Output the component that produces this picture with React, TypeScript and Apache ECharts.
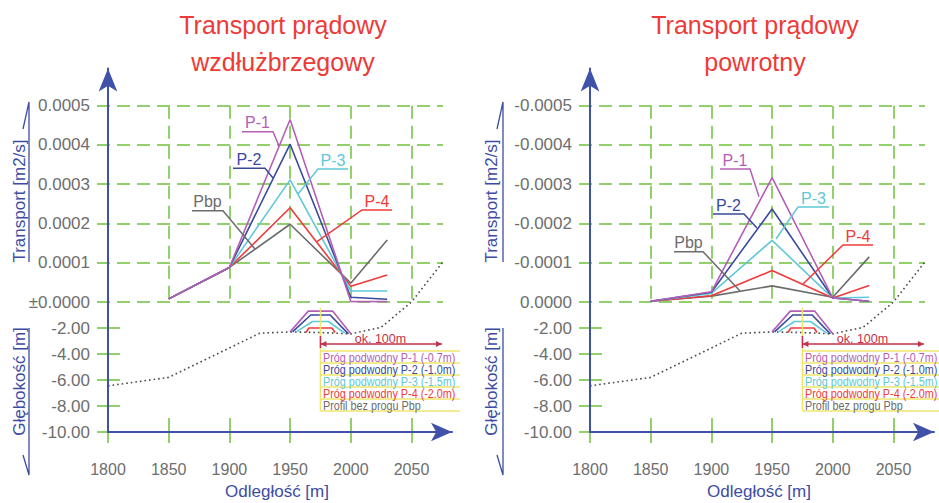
import React, { useEffect, useRef } from 'react';
import * as echarts from 'echarts';

// ---------- DATA ----------
const distances = [1850, 1900, 1950, 2000, 2030];
const seriesNames = ['P-1', 'P-2', 'P-3', 'P-4', 'Pbp'];

// Transport wzdłużbrzegowy [m2/s]
const alongP1 = [0.000008, 0.000088, 0.000465, 0.000001, 0.000001];
const alongP2 = [0.000008, 0.000088, 0.000402, 0.000012, 0.000007];
const alongP3 = [0.000008, 0.000088, 0.000311, 0.000028, 0.000028];
const alongP4 = [0.000008, 0.000088, 0.00024, 0.00004, 0.000069];
const alongPbp = [0.000008, 0.000088, 0.000198, 0.000048, 0.000158];

// Transport powrotny [m2/s]
const returnP1 = [-0.000002, -0.000026, -0.000317, -0.00001, -0.000002];
const returnP2 = [-0.000002, -0.000025, -0.000237, -0.00001, -0.000002];
const returnP3 = [-0.000002, -0.000022, -0.000157, -0.00001, -0.000012];
const returnP4 = [-0.000002, -0.000016, -0.00008, -0.00001, -0.000042];
const returnPbp = [-0.000002, -0.000015, -0.000041, -0.000012, -0.000115];

// Bathymetric profile (depth [m])
const profileX = [1800, 1850, 1925, 1950, 1975, 2000, 2025, 2050, 2076];
const profileDepth = [-6.45, -5.8, -2.4, -2.3, -2.35, -2.45, -1.95, 0, 3.1];

// Submerged sills (x, depth)
const sillP1X = [1950, 1965, 1985, 2000];
const sillP1D = [-2.3, -0.7, -0.7, -2.45];
const sillP2X = [1952, 1967, 1983, 1998];
const sillP2D = [-2.3, -1.0, -1.0, -2.45];
const sillP3X = [1955, 1968.5, 1981.5, 1995];
const sillP3D = [-2.3, -1.5, -1.5, -2.4];
const sillP4X = [1963, 1965.5, 1984.5, 1987];
const sillP4D = [-2.35, -2.0, -2.0, -2.35];

const legendLabels = [
  'Próg podwodny P-1 (-0.7m)',
  'Próg podwodny P-2 (-1.0m)',
  'Próg podwodny P-3 (-1.5m)',
  'Próg podwodny P-4 (-2.0m)',
  'Profil bez progu Pbp',
];
const titlesAlong = ['Transport prądowy', 'wzdłużbrzegowy'];
const titlesReturn = ['Transport prądowy', 'powrotny'];

// ---------- STYLE ----------
const COLORS = ['#b45fb6', '#3a4a9e', '#60c8d6', '#ef3b3b', '#6c6c6c'];
const BLUE = '#3f51a8';
const NAME_BLUE = '#3d4ca3';
const GREEN = '#92d06c';
const GRAY = '#6e6e6e';
const RED_TITLE = '#ee3a36';
const YELLOW = '#efe46a';
const DIM_RED = '#c4314b';
const FONT = 'Liberation Sans, Arial, sans-serif';

const PXM = 60.7 / 50; // px per metre of distance
const Y0 = 302;
const YT = 105.7;
const FRAME_TOP = 68.5;
const BOTTOM = 432;
const DEPTH_PX = 13;

const zip = (xs: number[], ys: number[]) => xs.map((x, i) => [x, ys[i]]);

function buildPanel(p: any, idx: number, acc: any) {
  const b = idx * 5;
  const ox = p.ox;
  const tMin = p.inverse ? -0.0005 : 0;
  const tMax = p.inverse ? 0 : 0.0005;
  const maxDepth = (Y0 - FRAME_TOP) / DEPTH_PX;
  acc.grid.push(
    { left: ox, top: FRAME_TOP, width: 344, height: BOTTOM - FRAME_TOP },
    { left: ox - 11, top: YT, width: 346, height: Y0 - YT },
    { left: ox, top: YT, width: 250 * PXM, height: Y0 - YT },
    { left: ox - 11, top: 328, width: 23, height: BOTTOM - 328 },
    { left: ox, top: 418, width: 250 * PXM, height: 25 },
  );
  // frame
  acc.xAxis.push({
    gridIndex: b, type: 'value', min: 1800, max: 1800 + 344 / PXM, interval: 50, z: 10,
    axisLine: { show: true, onZero: false, lineStyle: { color: BLUE, width: 2 }, symbol: ['none', 'arrow'], symbolSize: [14, 21] },
    axisTick: { show: false }, splitLine: { show: false },
    axisLabel: { color: GRAY, fontSize: 16, margin: 29, fontFamily: FONT, formatter: (v: number) => (Math.abs(v % 50) < 1e-6 ? String(Math.round(v)) : '') },
  });
  acc.yAxis.push({
    gridIndex: b, type: 'value', min: -10, max: maxDepth, z: 10,
    axisLine: { show: true, onZero: false, lineStyle: { color: BLUE, width: 2 }, symbol: ['none', 'arrow'], symbolSize: [14, 23] },
    axisTick: { show: false }, axisLabel: { show: false }, splitLine: { show: false },
  });
  // horizontal dashed + transport labels
  acc.xAxis.push({ gridIndex: b + 1, type: 'value', min: 0, max: 1, show: false });
  acc.yAxis.push({
    gridIndex: b + 1, type: 'value', min: tMin, max: tMax, interval: 0.0001, inverse: p.inverse,
    axisLine: { show: false }, axisTick: { show: false },
    splitLine: { show: true, lineStyle: { color: GREEN, width: 2, type: [13, 7] } },
    axisLabel: { color: GRAY, fontSize: 17, margin: 7, fontFamily: FONT, formatter: (v: number) => (Math.abs(v) < 1e-9 ? p.zeroLabel : v.toFixed(4)) },
  });
  // vertical dashed + transport series
  acc.xAxis.push({
    gridIndex: b + 2, type: 'value', min: 1800, max: 2050, interval: 50,
    axisLine: { show: false }, axisTick: { show: false }, axisLabel: { show: false },
    splitLine: { show: true, lineStyle: { color: GREEN, width: 2, type: [13, 7] } },
  });
  acc.yAxis.push({
    gridIndex: b + 2, type: 'value', min: tMin, max: tMax, inverse: p.inverse,
    axisLine: { show: false }, axisTick: { show: false }, axisLabel: { show: false }, splitLine: { show: false },
  });
  // depth ticks + labels
  acc.xAxis.push({ gridIndex: b + 3, type: 'value', min: 0, max: 1, show: false });
  acc.yAxis.push({
    gridIndex: b + 3, type: 'value', min: -10, max: -2, interval: 2,
    axisLine: { show: false }, axisTick: { show: false },
    splitLine: { show: true, lineStyle: { color: GREEN, width: 2 } },
    axisLabel: { color: GRAY, fontSize: 17, margin: 7, fontFamily: FONT, formatter: (v: number) => v.toFixed(2) },
  });
  // x ticks crossing axis
  acc.xAxis.push({
    gridIndex: b + 4, type: 'value', min: 1800, max: 2050, interval: 50,
    axisLine: { show: false }, axisTick: { show: false }, axisLabel: { show: false },
    splitLine: { show: true, lineStyle: { color: GREEN, width: 2 } },
  });
  acc.yAxis.push({ gridIndex: b + 4, type: 'value', min: 0, max: 1, show: false });

  // transport series
  p.values.forEach((vals: number[], i: number) => {
    acc.series.push({
      type: 'line', name: seriesNames[i] + idx, xAxisIndex: b + 2, yAxisIndex: b + 2,
      data: zip(distances, vals), showSymbol: false, z: 3 + (4 - i),
      lineStyle: { color: COLORS[i], width: 1.6 },
    });
  });
  // profile
  acc.series.push({
    type: 'line', xAxisIndex: b, yAxisIndex: b, data: zip(profileX, profileDepth), showSymbol: false, z: 2,
    lineStyle: { color: '#4a4a4a', width: 1.6, type: [1.6, 3] },
  });
  const sills = [[sillP1X, sillP1D], [sillP2X, sillP2D], [sillP3X, sillP3D], [sillP4X, sillP4D]];
  sills.forEach((s, i) => {
    acc.series.push({
      type: 'line', xAxisIndex: b, yAxisIndex: b, data: zip(s[0], s[1]), showSymbol: false, z: 3,
      lineStyle: { color: COLORS[i], width: 1.6 },
    });
  });

  // graphics
  const g = acc.graphic;
  const txt = (x: number, y: number, text: string, fill: string, size: number, extra: any = {}) => ({
    type: 'text', x, y, z: 20, ...extra,
    style: { text, fill, fontSize: size, fontFamily: FONT, textAlign: 'center', textVerticalAlign: 'middle', align: 'center', verticalAlign: 'middle', ...(extra.style || {}) },
  });
  g.push(txt(p.titleX, 25, p.titles[0], RED_TITLE, 25));
  g.push(txt(p.titleX, 62, p.titles[1], RED_TITLE, 25));
  g.push(txt(p.nameX, 201, 'Transport [m2/s]', NAME_BLUE, 17, { rotation: Math.PI / 2 }));
  g.push(txt(p.nameX, 381.5, 'Głębokość [m]', NAME_BLUE, 17, { rotation: Math.PI / 2 }));
  g.push({ type: 'polyline', z: 20, shape: { points: [[p.leaderX - 6, 129], [p.leaderX, 102], [p.leaderX, 262]] }, style: { stroke: NAME_BLUE, lineWidth: 1.3, fill: 'none' } });
  g.push({ type: 'polyline', z: 20, shape: { points: [[p.leaderX, 328], [p.leaderX, 475], [p.leaderX - 6, 455]] }, style: { stroke: NAME_BLUE, lineWidth: 1.3, fill: 'none' } });
  g.push(txt(ox + 169, 491, 'Odległość [m]', NAME_BLUE, 17));

  p.annotations.forEach((a: any, i: number) => {
    g.push(txt(a.tx, a.ty, seriesNames[i], COLORS[i], 16));
    g.push({ type: 'polyline', z: 20, shape: { points: a.pts }, style: { stroke: COLORS[i], lineWidth: 1.5, fill: 'none' } });
  });

  // legend box
  const x0 = ox + 175 * PXM;
  const xEnd = idx === 0 ? ox + 352 : 939;
  g.push({ type: 'line', z: 15, shape: { x1: x0, y1: 308, x2: x0, y2: 411 }, style: { stroke: YELLOW, lineWidth: 1.5 } });
  for (let r = 0; r <= 5; r++) {
    const yy = 351 + r * 12;
    g.push({ type: 'line', z: 15, shape: { x1: x0, y1: yy, x2: xEnd, y2: yy }, style: { stroke: YELLOW, lineWidth: 1.5 } });
  }
  legendLabels.forEach((t, r) => {
    g.push({
      type: 'text', x: x0 + 2.5, y: 357.5 + r * 12, z: 21, scaleX: 0.83,
      style: { text: t, fill: COLORS[r], fontSize: 13, fontFamily: FONT, textAlign: 'left', textVerticalAlign: 'middle', align: 'left', verticalAlign: 'middle' },
    });
  });
  // dimension "ok. 100m"
  const dEnd = x0 + 100 * PXM;
  g.push({ type: 'line', z: 16, shape: { x1: x0, y1: 344, x2: dEnd, y2: 344 }, style: { stroke: DIM_RED, lineWidth: 1.5 } });
  g.push({ type: 'line', z: 16, shape: { x1: x0, y1: 336, x2: x0, y2: 348 }, style: { stroke: DIM_RED, lineWidth: 1.5 } });
  g.push({ type: 'polygon', z: 16, shape: { points: [[dEnd, 344], [dEnd - 6, 341], [dEnd - 6, 347]] }, style: { fill: DIM_RED } });
  g.push({ type: 'polygon', z: 16, shape: { points: [[x0, 344], [x0 + 6, 341], [x0 + 6, 347]] }, style: { fill: DIM_RED } });
  g.push(txt(x0 + 60, 339, 'ok. 100m', DIM_RED, 12.5));
}

const panels = [
  {
    ox: 108, titles: titlesAlong, titleX: 283, nameX: 19.5, leaderX: 29, inverse: false, zeroLabel: '±0.0000',
    values: [alongP1, alongP2, alongP3, alongP4, alongPbp],
    annotations: [
      { tx: 257.5, ty: 122, pts: [[242, 131.7], [273, 131.7], [279, 146]] },
      { tx: 249, ty: 159.5, pts: [[233, 168.3], [265, 168.3], [273, 178]] },
      { tx: 333, ty: 160, pts: [[348, 169], [318, 169], [298, 194]] },
      { tx: 377, ty: 201, pts: [[392, 210], [362, 210], [317, 241.7]] },
      { tx: 207.5, ty: 201.5, pts: [[192, 210.7], [223, 210.7], [255, 249]] },
    ],
  },
  {
    ox: 590, titles: titlesReturn, titleX: 755, nameX: 491.5, leaderX: 503, inverse: true, zeroLabel: '0.0000',
    values: [returnP1, returnP2, returnP3, returnP4, returnPbp],
    annotations: [
      { tx: 735, ty: 160, pts: [[720, 169], [750, 169], [759, 196.7]] },
      { tx: 728.5, ty: 205, pts: [[713, 214], [744, 214], [757, 228]] },
      { tx: 813.5, ty: 198, pts: [[829, 207], [798, 207], [776, 239]] },
      { tx: 858, ty: 236, pts: [[873, 245], [843, 245], [803, 284]] },
      { tx: 688.5, ty: 242.5, pts: [[674, 251.7], [703, 251.7], [740, 291]] },
    ],
  },
];

export default function App() {
  const ref = useRef<HTMLDivElement>(null);
  useEffect(() => {
    if (!ref.current) return;
    const chart = echarts.init(ref.current, undefined, { renderer: 'svg' });
    const acc: any = { grid: [], xAxis: [], yAxis: [], series: [], graphic: [] };
    panels.forEach((p, i) => buildPanel(p, i, acc));
    chart.setOption({
      animation: false,
      backgroundColor: '#ffffff',
      textStyle: { fontFamily: FONT },
      grid: acc.grid,
      xAxis: acc.xAxis,
      yAxis: acc.yAxis,
      series: acc.series,
      graphic: acc.graphic,
    });
    return () => chart.dispose();
  }, []);
  return <div ref={ref} style={{ position: 'absolute', left: 0, top: 0, width: 939, height: 503 }} />;
}
